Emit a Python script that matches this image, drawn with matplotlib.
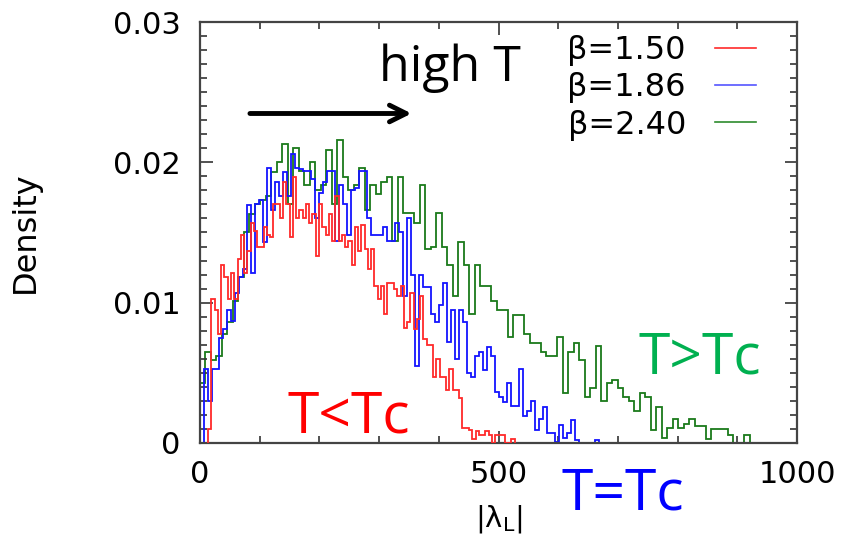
import matplotlib
matplotlib.use("Agg")
import matplotlib.pyplot as plt
import numpy as np

# histogram heights, in units of 1e-3
red_vals = [1.0, 10.25, 9.5, 7.8, 12.7, 11.8, 10.25, 12.1, 10.25, 13.1, 14.8, 12.1, 13.7, 15.7,
            15.1, 14.0, 14.0, 15.4, 14.8, 14.7, 17.0, 17.0, 16.0, 18.6, 17.0, 14.7, 18.95, 16.0,
            16.6, 16.0, 17.0, 15.7, 16.3, 13.3, 17.0, 15.4, 14.8, 16.3, 14.4, 17.6, 14.4, 14.8,
            14.0, 14.4, 12.7, 15.4, 13.7, 15.5, 13.8, 12.4, 13.8, 11.2, 10.25, 11.2, 9.2, 11.4,
            11.4, 11.0,
            10.5, 11.2, 8.2, 8.6, 10.7, 8.1, 8.8, 10.5, 7.4, 7.0, 7.0, 4.7, 5.95, 4.7, 4.7, 3.8,
            5.3, 3.8, 3.8, 3.2, 1.1, 1.1, 0.9, 0.3, 0.86, 0.6, 0.6, 0.86, 0.6, 0, 0.6,
            0.6, 0.6, 0, 0, 0.3]
red_range = (13.7, 527)

blue_vals = [5.27, 2.96, 5.27, 5.27, 7.5, 8.1, 9.5, 8.7, 10.7, 11.8, 12.4, 16.97, 12.1, 17.0,
             17.35, 14.3, 19.6, 16.6, 18.6, 17.6, 19.3, 17.6, 20.6, 19.6,
             19.5, 19.35, 19.35, 18.8, 16.0, 17.8, 18.6, 19.35, 19.35, 14.4, 18.35, 17.0, 14.8,
             18.0, 18.2, 19.35, 19.35, 16.0, 14.8, 14.8, 14.8, 15.4, 14.4, 14.4, 15.7,
             15.0, 10.5, 16.0, 12.0, 5.5, 12.0, 11.1, 11.1, 9.2, 8.6, 9.8, 11.4, 7.2, 9.5, 5.95,
             9.5, 8.6, 5.0, 4.7, 6.2, 6.5, 5.2, 6.85, 6.2, 3.6,
             3.3, 2.89, 4.3, 2.6, 2.6, 5.3, 1.93, 2.3, 2.96, 0.93, 1.7, 2.55, 0.7, 0.7, 0.1,
             1.29, 0.33, 0.7, 1.65, 0.24, 0, 0, 0, 0, 0.24]
blue_range = (5.9, 668)

green_vals = [4.3, 6.5, 5.9, 6.2, 7.8, 8.6, 10.1, 11.8, 15.0, 16.3, 17.0, 17.35, 17.6, 19.3,
              20.0, 21.3, 17.0, 21.0,
              19.35, 18.35, 20.0, 18.0, 18.35, 20.9, 17.0, 21.6, 18.95, 18.0, 18.35, 19.6, 16.6,
              18.35, 17.75, 18.6, 18.95, 14.4,
              18.95, 16.4, 16.4, 15.7, 18.35, 13.8, 14.0, 16.4, 14.0, 12.7, 10.5, 14.3, 12.7,
              9.2, 12.7, 11.2, 11.2, 10.1,
              9.5, 9.5, 7.54, 9.1, 9.1, 7.8, 7.1, 7.1, 6.5, 6.2, 6.2, 7.54, 3.55, 6.5, 7.1, 5.9,
              3.3, 3.9,
              6.9, 2.96, 4.27, 4.5, 3.9, 3.25, 2.96, 2.3, 3.56, 3.25, 0.93, 2.56, 0.33, 1.05,
              1.72, 1.05, 1.36, 1.72,
              1.22, 1.22, 0.27, 1.0, 0.98, 0.98, 0.57, 0, 0, 0.57]
green_range = (0, 921)

labels = ['β=1.50', 'β=1.86', 'β=2.40']
xticks = [0, 500, 1000]
yticks = [0, 0.01, 0.02, 0.03]
ytick_labels = ['0', '0.01', '0.02', '0.03']

fig = plt.figure(figsize=(8.46, 5.57), dpi=100)
ax = fig.add_axes([0.2364, 0.2047, 0.7057, 0.7558])

series = [(green_vals, green_range, '#1a7a1a', labels[2], 1),
          (blue_vals, blue_range, '#1414ff', labels[1], 2),
          (red_vals, red_range, '#ff2a2a', labels[0], 3)]
for vals, rng, col, lab, z in series:
    v = np.array(vals) * 1e-3
    edges = np.linspace(rng[0], rng[1], len(v) + 1)
    ax.stairs(v, edges, color=col, lw=1.3, baseline=0, zorder=z, label=lab)

ax.set_xlim(0, 1000)
ax.set_ylim(0, 0.03)
ax.set_xticks(xticks)
ax.set_xticks(np.arange(0, 1001, 100), minor=True)
ax.set_yticks(yticks, ytick_labels)
ax.set_yticks(np.arange(0, 0.0301, 0.001), minor=True)
ax.tick_params(which='both', direction='in', top=True, right=True, color='#333333', width=1.2)
ax.tick_params(which='major', length=9, labelsize=22, pad=12)
ax.tick_params(axis='y', which='major', pad=14)
ax.tick_params(which='minor', length=5)
for s in ax.spines.values():
    s.set_color('#444444')
    s.set_linewidth(1.6)

ax.set_ylabel('Density', fontsize=23, labelpad=52)
ax.set_xlabel('|λ$_\\mathregular{L}$|', fontsize=21, labelpad=10)

ax.legend([plt.Line2D([], [], color='#ff2a2a', lw=1.2),
           plt.Line2D([], [], color='#5555ff', lw=1.2),
           plt.Line2D([], [], color='#2e8b2e', lw=1.2)],
          labels, loc='upper right', bbox_to_anchor=(0.953, 1.0), frameon=False,
          markerfirst=False, fontsize=23, handlelength=1.3, labelspacing=0.2,
          handletextpad=0.9, borderaxespad=0)

ax.annotate('', xy=(359, 0.02348), xytext=(79, 0.02348),
            arrowprops=dict(arrowstyle='->', lw=3.5, color='black', mutation_scale=30))
ax.text(418, 0.0267, 'high T', fontsize=36, family='Open Sans', ha='center', va='center')
ax.text(249, 0.0018, 'T<Tc', fontsize=41, family='Open Sans', color='#ff0000',
        ha='center', va='center')
ax.text(837, 0.0060, 'T>Tc', fontsize=41, family='Open Sans', color='#00b050',
        ha='center', va='center')
ax.text(709, -0.0037, 'T=Tc', fontsize=41, family='Open Sans', color='#0000ff',
        ha='center', va='center', clip_on=False)

fig.savefig('out.png', dpi=100)
